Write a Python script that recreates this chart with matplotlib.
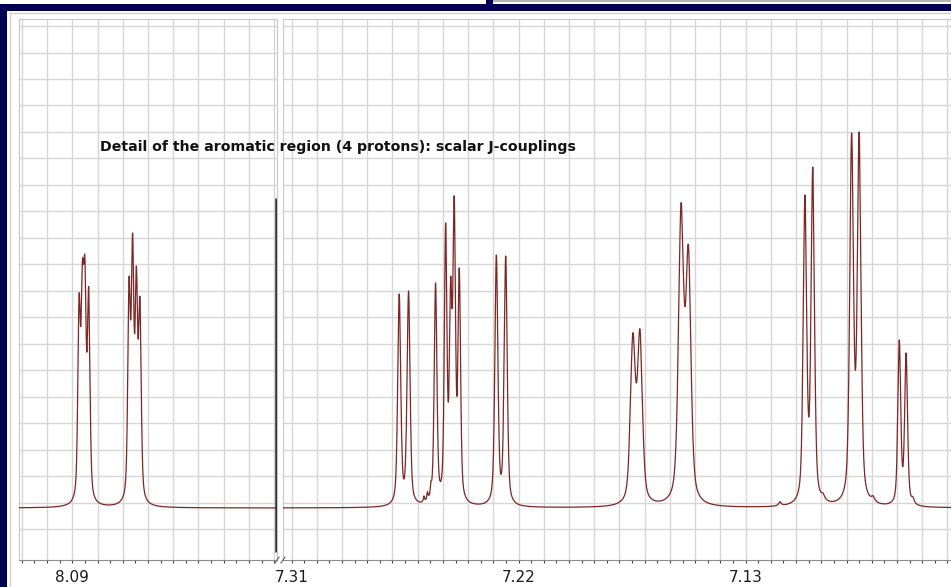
import numpy as np
import matplotlib
matplotlib.use('Agg')
import matplotlib.pyplot as plt
from matplotlib.patches import Rectangle
from matplotlib.lines import Line2D
from matplotlib.ticker import MultipleLocator, FuncFormatter

left_ppm=[8.0873,8.0860,8.0850,8.0835,8.0675,8.0661,8.0646,8.0632]
left_height=[214,247,250,221,231,275,242,211]
left_hw=[0.0006,0.0006,0.0006,0.0006,0.0006,0.0006,0.0006,0.0006]

right_ppm=[7.2673,7.2636,7.2529,7.2489,7.2469,7.2455,7.2435,7.2288,7.2251,
           7.1747,7.1719,7.1556,7.1527,7.1065,7.1034,7.0880,7.0850,7.0691,7.0664]
right_height=[214,217,225,285,231,312,240,253,252,
              175,179,305,263,313,341,375,376,168,155]
right_hw=[0.0007,0.0007,0.00063,0.0006,0.0006,0.0006,0.0006,0.0007,0.0007,
          0.00115,0.00115,0.0012,0.0012,0.0008,0.0008,0.00087,0.00087,0.00067,0.00067]

#Petites bosses de la ligne de base
bump_ppm=[7.2575,7.2561,7.2547,7.1164,7.0993,7.0795,7.0637]
bump_height=[6,8,10,4,5,5,5]
bump_hw=[0.0003,0.0003,0.0003,0.0006,0.0008,0.0008,0.0006]

#Curseur vertical noir
cursor_ppm=8.0093
cursor_low=-44
cursor_high=310

left_labels=[8.09]
right_labels=[7.31,7.22,7.13]

title='Detail of the aromatic region (4 protons): scalar J-couplings'

W,H=951,587

def lineshape(x,x0,hw):
    u=(x-x0)/hw
    return 0.5/(1+u**2)+0.5*np.exp(-np.log(2)*u**2)

def bumps(x):
    y=np.zeros_like(x)
    for p,h,w in zip(bump_ppm,bump_height,bump_hw):
        y+=h/(1+((x-p)/w)**2)
    return y

all_ppm=np.array(left_ppm+right_ppm)
all_height=np.array(left_height+right_height,dtype=float)
all_hw=np.array(left_hw+right_hw)

#Amplitudes telles que les sommets aient la hauteur lue
M=lineshape(all_ppm[:,None],all_ppm[None,:],all_hw[None,:])
amp=np.linalg.solve(M,all_height-bumps(all_ppm))

def spectrum(x):
    y=bumps(x)
    for a,p,w in zip(amp,all_ppm,all_hw):
        y+=a*lineshape(x,p,w)
    return y

fig=plt.figure(figsize=(W/100,H/100),dpi=100)

def px_box(x0,y0,x1,y1):
    return [x0/W,1-y1/H,(x1-x0)/W,(y1-y0)/H]

ax1=fig.add_axes(px_box(19,19,277,560))
ax2=fig.add_axes(px_box(283,19,951,560))

lims=[(8.11113,8.00887),(7.31337,7.04861)]
labels=[left_labels,right_labels]

for ax,(hi,lo),labs in zip([ax1,ax2],lims,labels):
    x=np.linspace(lo,hi,20000)
    ax.plot(x,spectrum(x),color='#7d2626',lw=0.9,zorder=3)
    ax.set_xlim(hi,lo)
    ax.set_ylim(-52,489)
    ax.xaxis.set_major_locator(MultipleLocator(0.01))
    ax.xaxis.set_minor_locator(MultipleLocator(0.005))
    ax.xaxis.set_major_formatter(FuncFormatter(
        lambda v,pos,labs=labs: '%.2f'%v if any(abs(v-l)<1e-6 for l in labs) else ''))
    ax.set_yticks(np.arange(-21,489,26.47))
    ax.set_yticklabels([])
    ax.tick_params(axis='y',length=0)
    ax.tick_params(axis='x',which='both',direction='out',length=2.2,width=0.8,
                   color='#404040',pad=5,labelsize=11,labelcolor='#1a1a1a')
    ax.grid(True,color='#d6d6d6',lw=1.0,zorder=0)
    for s in ['top','left','right']:
        ax.spines[s].set_color('#c8c8c8')
    ax.spines['bottom'].set_color('#8c8c8c')
ax2.spines['right'].set_visible(False)

ax1.vlines(cursor_ppm,cursor_low,cursor_high,color='#303030',lw=1.8,zorder=4)

#Marques de coupure
for xp in [277,283]:
    fig.add_artist(Line2D([(xp-2)/W,(xp+2)/W],[1-563/H,1-557/H],color='#606060',lw=0.8))

fig.text(100/W,1-147/H,title,ha='left',va='center',fontsize=10.2,
         fontweight='bold',color='#111111')

#Cadre bleu marine
fig.add_artist(Rectangle((0,0),7/W,1-4/H,transform=fig.transFigure,color='#000050',lw=0))
fig.add_artist(Rectangle((0,1-11/H),1,7/H,transform=fig.transFigure,color='#000050',lw=0))
fig.add_artist(Rectangle((486/W,1-4/H),7/W,4/H,transform=fig.transFigure,color='#000050',lw=0))
fig.add_artist(Rectangle((493/W,1-2/H),1,2/H,transform=fig.transFigure,color='#b4b4b4',lw=0))
fig.add_artist(Line2D([10/W,10/W],[0,1-13/H],color='#d0d0d0',lw=1))
fig.add_artist(Line2D([10/W,1],[1-13/H,1-13/H],color='#d0d0d0',lw=1))

fig.savefig('out.png',dpi=100)
